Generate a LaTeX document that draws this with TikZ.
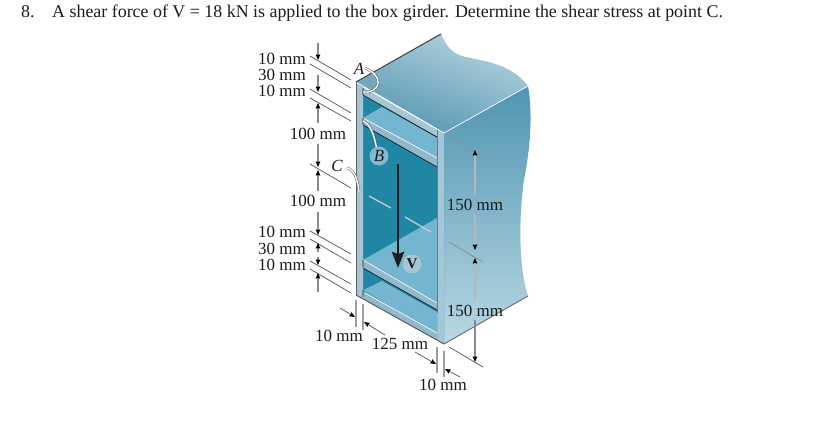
\documentclass[tikz,border=0pt]{standalone}
\usepackage{fontspec}
\setmainfont{Liberation Serif}
\usetikzlibrary{arrows.meta}
\definecolor{deep}{HTML}{1F86A3}
\definecolor{shelf}{HTML}{74B5CF}
\definecolor{frame}{HTML}{A6C6D6}
\definecolor{strip}{HTML}{92B8CB}
\definecolor{topdark}{HTML}{5596B1}
\definecolor{toplight}{HTML}{B4D3DF}
\definecolor{rightdark}{HTML}{4F95B2}
\definecolor{rightlight}{HTML}{B9D8E3}
\definecolor{ink}{HTML}{1C1C1C}
\definecolor{tick}{HTML}{555555}
\definecolor{dimgray}{HTML}{8A8A8A}
\tikzset{
  x=1pt,y=-1pt,
  lab/.style={font=\fontsize{17}{17}\selectfont,text=ink,inner sep=0pt,anchor=center},
  ital/.style={font=\fontsize{17}{17}\selectfont\itshape,text=ink,inner sep=0pt},
  ticked/.style={draw=tick,line width=0.7pt},
  tickface/.style={draw=white!35!tick,line width=0.9pt},
  ticklight/.style={draw=white!70!tick,line width=1.3pt},
  dimtip/.style={-{Stealth[length=5.5pt,width=4.5pt,inset=0.5pt,color=black]}},
  dimv/.style={draw=dimgray,line width=1.2pt,dimtip},
  dimface/.style={draw=white!72!black,line width=1.2pt,dimtip},
  extline/.style={draw=white!62!black,line width=1.5pt},
  leader/.style={draw=tick,line width=0.7pt,dimtip},
  callout/.style={draw=tick!85,line width=0.6pt,double=white,double distance=1.3pt},
  badge/.style={circle,minimum size=19pt,inner sep=0pt},
}
\begin{document}
\begin{tikzpicture}
\useasboundingbox[fill=white] (0,0) rectangle (830,446);
% title
\node[anchor=base west,inner sep=0pt,font=\fontsize{17.9}{18}\selectfont,text=ink] (num) at (21,18) {8.};
\node[anchor=base west,inner sep=0pt,font=\fontsize{17.9}{18}\selectfont,text=ink] (title) at (52,18) {A shear force of V = 18 kN is applied to the box girder. Determine the shear stress at point C.};
% top face
\shade[top color=toplight,bottom color=topdark,shading angle=-20]
  (356,82) -- (441,34) .. controls (447,47) and (452,53) .. (462,56)
  .. controls (480,61) and (510,62) .. (528,86) -- (444,133) -- cycle;
% right face
\shade[top color=rightdark,bottom color=rightlight]
  (444,133) -- (528,86) .. controls (533,115) and (530,150) .. (524,180)
  .. controls (519,215) and (518,265) .. (528,296) -- (444,344) -- cycle;
% interior
\fill[deep] (356,82) -- (444,133) -- (444,344) -- (356,295) -- cycle;
% shelf tops
\fill[shelf] (363,118) -- (382,107) -- (437,138) -- (437,160) -- cycle;
\fill[shelf] (363,260) -- (437,218) -- (437,303) -- cycle;
\fill[shelf] (363,290) -- (382,281) -- (437,312) -- (437,334) -- cycle;
% flanges
\fill[frame] (363,87) -- (437,129) -- (437,137) -- (363,95) -- cycle;
\fill[strip] (363,118) -- (437,158) -- (437,167) -- (363,125) -- cycle;
\fill[strip] (363,260) -- (437,303) -- (437,310) -- (363,268) -- cycle;
\fill[strip] (363,291) -- (437,333) -- (444,344) -- (356,295) -- cycle;
\draw[white,line width=0.6pt] (363,87) -- (437,129) (363,118) -- (437,158) (363,260) -- (437,303) (365,293) -- (437,333);
\draw[ink,line width=0.7pt] (363,95) -- (437,137) (363,125) -- (437,167) (363,268) -- (437,310);
% webs
\fill[frame] (356,82) -- (363,87) -- (363,299) -- (356,295) -- cycle;
\fill[frame] (437,129) -- (444,133) -- (444,344) -- (437,340) -- cycle;
\draw[white,line width=0.7pt] (356,82) -- (444,133) -- (528,86);
\draw[ink!70,line width=0.9pt] (356,82) -- (356,295);
\draw[ink!75,line width=0.9pt] (356,295) -- (444,344);
\draw[ink!80,line width=1.1pt] (356,82) -- (441,34);
\draw[ink!60,line width=1pt] (437,130) -- (437,313);
\draw[ink!35,line width=1pt] (437,313) -- (437,339);
\draw[ink!55,line width=1.1pt] (363,88) -- (363,95) (363,118) -- (363,125) (363,260) -- (363,267) (363,290) -- (363,297);
\draw[ink!65,line width=0.9pt] (444,344) -- (528,296);
% hidden tick marks inside
\draw[ticklight] (369,196) -- (391,208) (405,217) -- (431,232);
% ticks left
\draw[ticked] (310,56) -- (351,80) (310,64) -- (351,88) (310,89) -- (351,113) (310,98) -- (351,121)
  (310,164) -- (351,188) (310,231) -- (351,254) (310,239) -- (351,263) (310,261) -- (351,284) (310,269) -- (351,293);
% left dims
\draw[dimv] (318,43) -- (318,60);
\draw[dimv] (318,75) -- (318,92);
\draw[dimv] (318,123) -- (318,103);
\draw[dimv] (318,144) -- (318,167);
\draw[dimv] (318,191) -- (318,170);
\draw[dimv] (318,212) -- (318,235);
\draw[dimv] (318,252) -- (318,243);
\draw[dimv] (318,257) -- (318,265);
\draw[dimv] (318,292) -- (318,273);
% left labels
\node[lab,anchor=east] (l1) at (306,59) {10 mm};
\node[lab,anchor=east] (l2) at (306,75) {30 mm};
\node[lab,anchor=east] (l3) at (306,91) {10 mm};
\node[lab] (l4) at (318,134) {100 mm};
\node[lab] (l5) at (318,201) {100 mm};
\node[lab,anchor=east] (l6) at (306,232) {10 mm};
\node[lab,anchor=east] (l7) at (306,249) {30 mm};
\node[lab,anchor=east] (l8) at (306,265) {10 mm};
% bottom dims
\draw[extline] (356,300) -- (356,327) (363,304) -- (363,330) (437,347) -- (437,373) (444,351) -- (444,377);
\draw[leader] (340,308) -- (355,317);
\draw[leader] (385,335) -- (364,322);
\draw[leader] (415,352) -- (436,364);
\draw[leader] (460,377) -- (445,369);
\node[lab] (b1) at (339,336) {10 mm};
\node[lab] (b2) at (400,344) {125 mm};
\node[lab] (b3) at (443,385) {10 mm};
% right dims
\draw[tickface] (449,137) -- (483,157) (449,242) -- (483,262);
\draw[ticked] (449,347) -- (483,367);
\draw[dimface] (475,195) -- (475,150);
\draw[dimface] (475,215) -- (475,250);
\draw[dimface] (475,301) -- (475,258);
\draw[dimv] (475,320) -- (475,362);
\node[lab] (r1) at (475,205) {150 mm};
\node[lab] (r2) at (475,311) {150 mm};
% V load
\node[badge,fill=frame] (vb) at (412,264) {};
\node[inner sep=0pt,font=\fontsize{15}{15}\selectfont\bfseries,text=ink] (vl) at (412,264) {V};
\coordinate (vs) at (398,164); \coordinate (ve) at (398,268);
\draw[ink,line width=2.7pt,-{Stealth[length=16pt,width=12pt,inset=2pt]}] (vs) -- (ve);
% callouts
\coordinate (Bend) at (363,121);
\coordinate (Btip) at (377,150);
\draw[callout] (Bend) .. controls (370,124) and (374,134) .. (Btip);
\node[badge,fill=shelf!70!frame] (B) at (379,156) {};
\node[ital] (Bl) at (379,156) {B};
\node[ital] (A) at (359,69) {A};
\coordinate (Astart) at (365,68);
\coordinate (Aend) at (363,92);
\draw[callout] (Astart) .. controls (374,72) and (379,78) .. (378,83) .. controls (377,90) and (370,93) .. (Aend);
\node[ital] (C) at (337,166) {C};
\coordinate (Cstart) at (347,168);
\coordinate (Cend) at (359,192);
\draw[callout] (Cstart) .. controls (354,169) and (358,180) .. (Cend);
\end{tikzpicture}
\end{document}
